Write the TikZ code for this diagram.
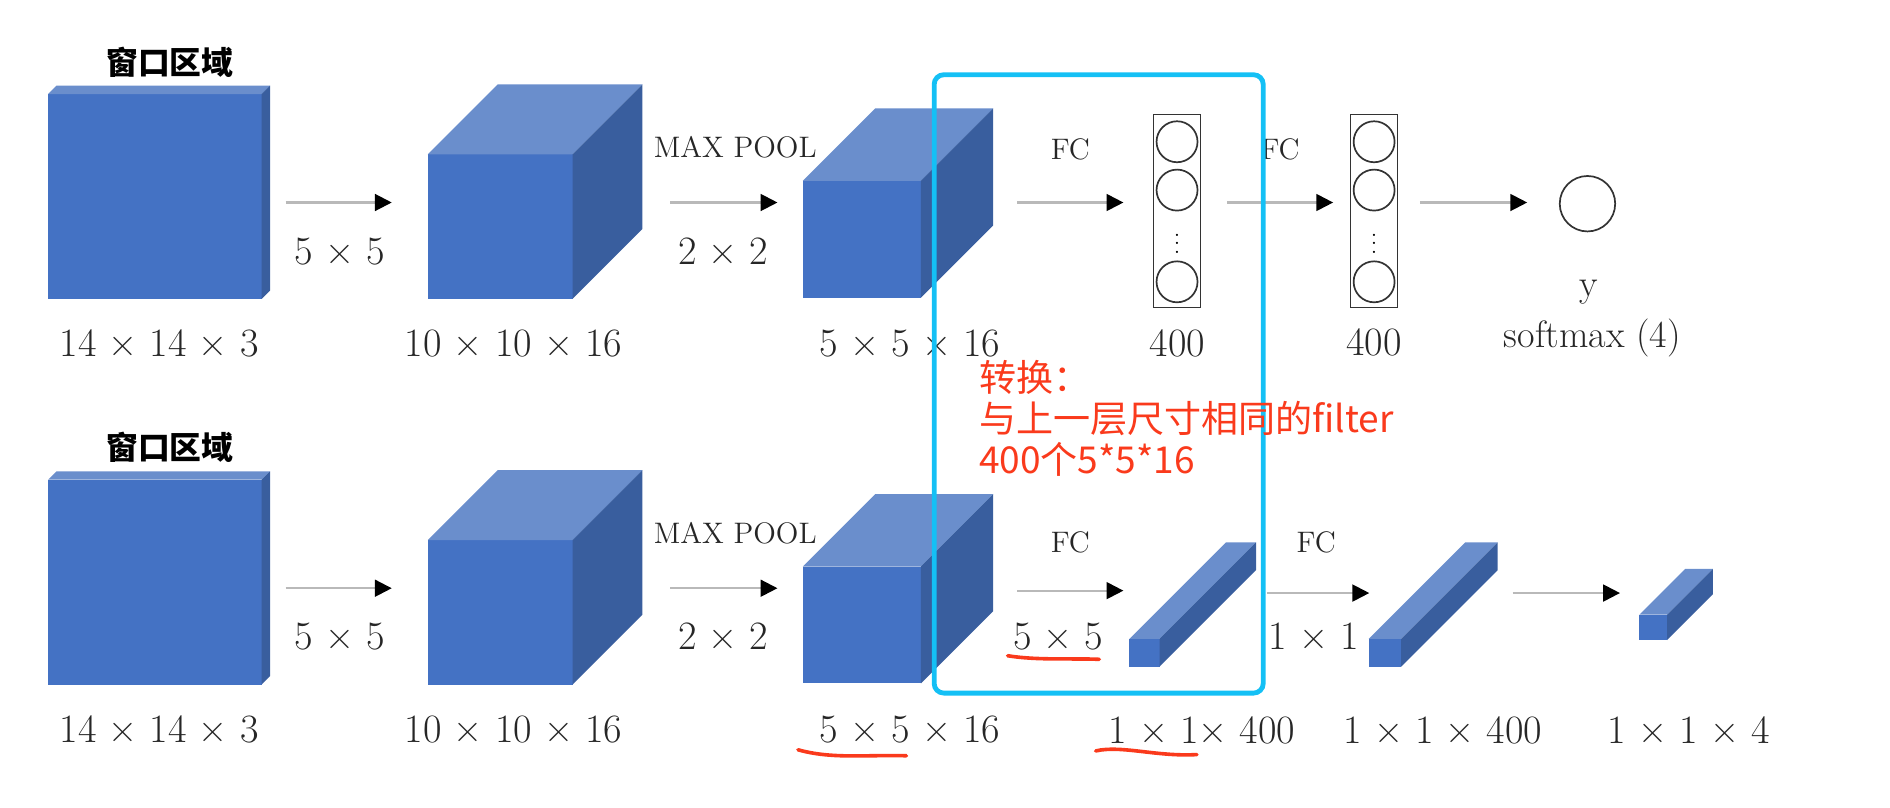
\documentclass[tikz,border=0pt]{standalone}
\usepackage{fontspec}
\newfontfamily\cjk{Noto Sans CJK SC}
\usepackage{tikz}
\usetikzlibrary{arrows.meta}
\definecolor{cubefront}{RGB}{68,114,196}
\definecolor{cubetop}{RGB}{106,142,204}
\definecolor{cubeside}{RGB}{57,94,158}
\definecolor{hlcyan}{RGB}{20,192,245}
\definecolor{notered}{RGB}{250,58,28}
\newcommand{\pxl}{0.02cm}
% name, centre x, centre y, width, height, depth
\newcommand{\prism}[6]{%
    \node[cubeface, minimum width=#4*\pxl, minimum height=#5*\pxl] (#1) at (#2,#3) {};
    \fill[cubetop] (#1.north west) -- ++(#6,-#6) -- ++(#4,0) -- (#1.north east) -- cycle;
    \fill[cubeside] (#1.north east) -- ++(#6,-#6) -- ++(0,#5) -- (#1.south east) -- cycle;
}

\begin{document}
\begin{tikzpicture}[
    x=0.02cm, y=-0.02cm,
    cubeface/.style={rectangle, fill=cubefront, inner sep=0pt, outer sep=0pt},
    layerbox/.style={rectangle, draw=black!80, line width=0.8pt, inner sep=0pt},
    neuron/.style={circle, draw=black!80, line width=0.8pt, inner sep=0pt, minimum size=34*\pxl},
    flow/.style={draw=gray!55, line width=1pt, -{Triangle[length=0.28cm, width=0.28cm, color=black]}},
    dims/.style={text=black!85, font=\fontsize{19}{22}\selectfont},
    oplabel/.style={text=black!85, font=\fontsize{14}{16}\selectfont},
    region/.style={font=\cjk\bfseries\fontsize{15}{18}\selectfont},
    hlbox/.style={draw=hlcyan, line width=0.08cm, rounded corners=0.16cm, inner sep=0pt},
    note/.style={text=notered, align=left, inner sep=0pt, font=\cjk\fontsize{17.5}{19.3}\selectfont},
    redmark/.style={draw=notered, line width=0.06cm, line cap=round}
]
    \useasboundingbox (0,0) rectangle (1568,670);

    % Top row: conv net with FC layers
    \node[region] (win1) at (141,52) {窗口区域};
    \prism{in1}{128.5}{163}{177}{170}{7}
    \prism{cv1}{415}{188}{120}{120}{58}
    \prism{mp1}{715}{198.5}{98}{97}{60}

    % FC layers
    \foreach \bx/\nm in {976.5/h1, 1140/h2} {
        \node[layerbox, minimum width=39*\pxl, minimum height=160*\pxl] (\nm) at (\bx,175) {};
        \node[neuron] (\nm-a) at (\bx,117.6) {};
        \node[neuron] (\nm-b) at (\bx,157.7) {};
        \node[neuron] (\nm-c) at (\bx,233.8) {};
        \node[font=\normalsize, inner sep=0pt] (\nm-d) at (\bx,197) {$\vdots$};
    }
    \node[neuron, minimum size=46*\pxl] (yout) at (1317,169) {};

    % Bottom row: same net, FC as convolution
    \node[region] (win2) at (141,371) {窗口区域};
    \prism{in2}{128.5}{483}{177}{170}{7}
    \prism{cv2}{415}{508}{120}{120}{58}
    \prism{mp2}{715}{518.5}{98}{97}{60}
    \prism{fc3}{949.5}{541.5}{25}{23}{80}
    \prism{fc4}{1149}{541.5}{27}{23}{80}
    \prism{sm2}{1371.5}{520.5}{23}{21}{38}

    % Arrows
    \foreach \xa/\xb/\ya [count=\i] in {237/325/168, 556/645/168, 844/932/168, 1018/1106/168, 1178/1267/168,
                                        237/325/488, 556/645/488, 844/932/490, 1051/1136/492, 1255/1344/492} {
        \coordinate (s\i) at (\xa,\ya);
        \coordinate (e\i) at (\xb,\ya);
        \draw[flow] (s\i) -- (e\i);
    }

    % Labels, top
    \node[dims] (k1) at (282,209) {5 × 5};
    \node[oplabel] (pool1) at (610,122) {MAX POOL};
    \node[dims] (p1) at (600,208) {2 × 2};
    \node[oplabel] (fca) at (888,124) {FC};
    \node[oplabel] (fcb) at (1062,124) {FC};
    \node[dims] (d1) at (132,285) {14 × 14 × 3};
    \node[dims] (d2) at (426,285) {10 × 10 × 16};
    \node[dims] (d3) at (755,285) {5 × 5 × 16};
    \node[dims] (d4) at (977,285) {400};
    \node[dims] (d5) at (1140,284) {400};
    \node[dims, font=\fontsize{18}{20}\selectfont] (ylbl) at (1318,242) {y};
    \node[dims, font=\fontsize{18}{20}\selectfont] (smax) at (1321,280) {softmax (4)};

    % Labels, bottom
    \node[dims] (k2) at (282,528) {5 × 5};
    \node[oplabel] (pool2) at (610,442) {MAX POOL};
    \node[dims] (p2) at (600,528) {2 × 2};
    \node[oplabel] (fcc) at (888,450) {FC};
    \node[dims] (k3) at (878,528) {5 × 5};
    \node[oplabel] (fcd) at (1092,450) {FC};
    \node[dims] (k4) at (1090,528) {1 × 1};
    \node[dims] (d6) at (132,605) {14 × 14 × 3};
    \node[dims] (d7) at (426,605) {10 × 10 × 16};
    \node[dims] (d8) at (755,605) {5 × 5 × 16};
    \node[dims] (d9) at (997,606) {1 × 1× 400};
    \node[dims] (d10) at (1197,606) {1 × 1 × 400};
    \node[dims] (d11) at (1401,606) {1 × 1 × 4};

    % Highlight box and note
    \node[hlbox, minimum width=273*\pxl, minimum height=513*\pxl] (hl) at (911.5,318.5) {};
    \node[note, anchor=west] (conv) at (812,347) {转换：\\与上一层尺寸相同的filter\\400个5*5*16};
    \draw[redmark] (662,622) .. controls (690,630) and (720,626) .. (752,627);
    \draw[redmark] (836,544) .. controls (860,548) and (890,546) .. (912,547);
    \draw[redmark] (909,623) .. controls (930,618) and (960,628) .. (993,626);
\end{tikzpicture}
\end{document}
